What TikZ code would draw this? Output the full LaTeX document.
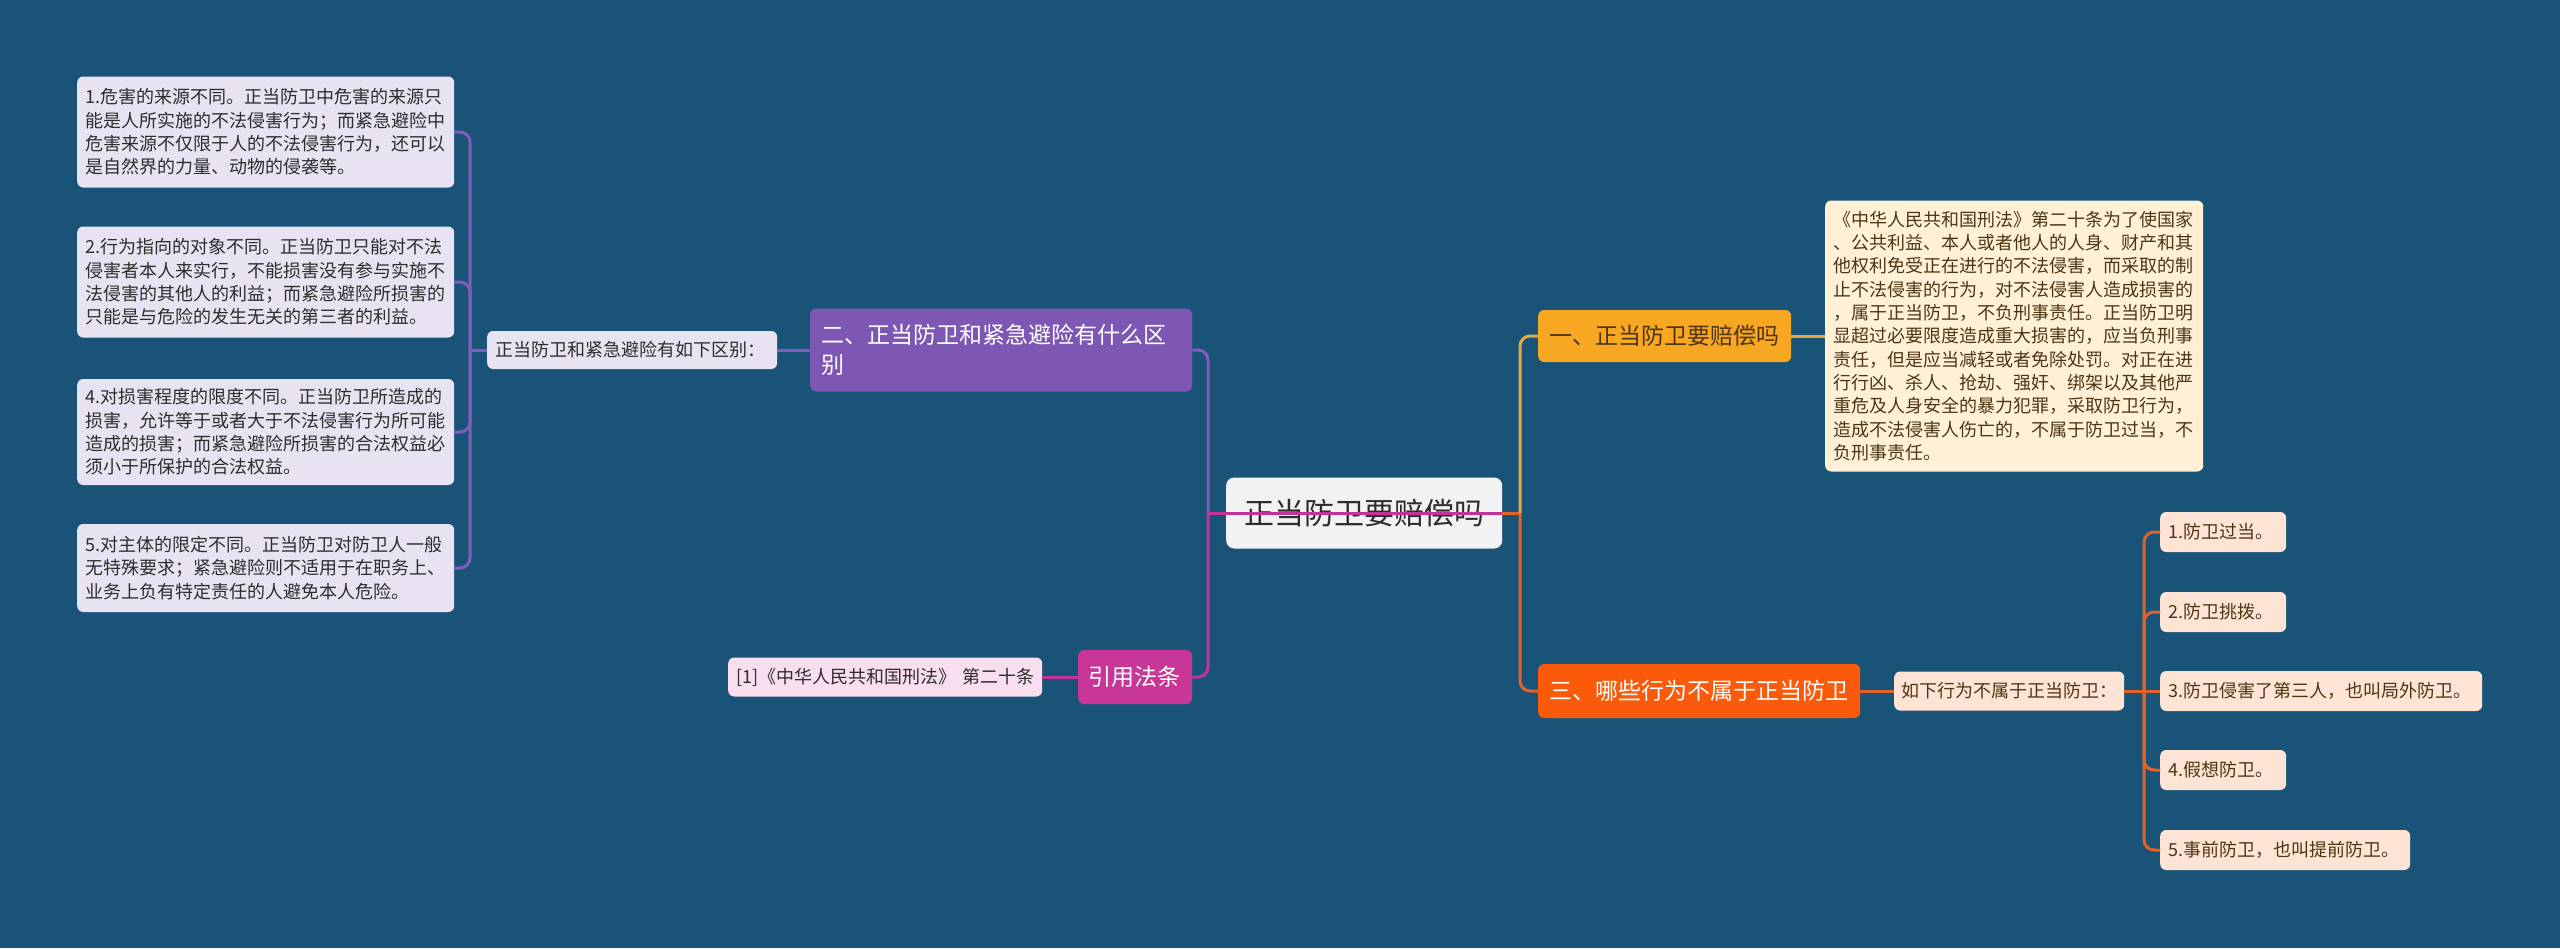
\documentclass[tikz,border=0pt]{standalone}
\usepackage{fontspec}
\setmainfont{Noto Sans CJK SC}

\definecolor{bgblue}{RGB}{26,83,120}
\definecolor{lavender}{RGB}{232,226,242}
\definecolor{purp}{RGB}{126,87,181}
\definecolor{purpline}{RGB}{130,92,188}
\definecolor{mag}{RGB}{200,54,152}
\definecolor{magline}{RGB}{196,52,150}
\definecolor{pinklight}{RGB}{248,222,238}
\definecolor{rootgray}{RGB}{242,242,242}
\definecolor{amber}{RGB}{247,167,34}
\definecolor{amberline}{RGB}{228,168,62}
\definecolor{cream}{RGB}{255,240,214}
\definecolor{flame}{RGB}{250,90,10}
\definecolor{flameline}{RGB}{226,98,40}
\definecolor{peach}{RGB}{255,227,212}
\definecolor{inkdark}{RGB}{45,45,45}
\definecolor{inkbrown}{RGB}{78,54,20}

\tikzset{
    card/.style={rounded corners=6pt, anchor=west, align=left, inner xsep=8pt,
        inner ysep=0pt, font=\fontsize{18}{23.3}\selectfont},
    detail/.style={card, fill=lavender, text=inkdark},
    citeref/.style={card, fill=pinklight, text=inkdark},
    lawbox/.style={card, fill=cream, text=inkbrown},
    item/.style={card, fill=peach, text=inkbrown, minimum height=40pt},
    topic/.style={card, inner xsep=11pt, font=\fontsize{23}{30}\selectfont},
    centre/.style={card, align=center, inner xsep=18pt, fill=rootgray, text=inkdark,
        rounded corners=8pt, font=\fontsize{30}{34}\selectfont},
    link/.style={line width=3pt, rounded corners=10pt}
}

\begin{document}
\begin{tikzpicture}[x=1pt, y=-1pt]
    \useasboundingbox (0,0) rectangle (2560,948);
    \fill[bgblue] (0,0) rectangle (2560,948);

    \node[centre, text width=240pt, minimum height=71pt] (root) at (1226,513)
        {正当防卫要赔偿吗};

    \node[topic, fill=purp, text=white, text width=360pt, minimum height=83pt] (sec-two) at (810,350)
        {二、正当防卫和紧急避险有什么区\\别};
    \node[detail, text width=274pt, minimum height=38pt] (diff-intro) at (487,350)
        {正当防卫和紧急避险有如下区别：};
    \node[detail, text width=361pt, minimum height=111pt] (diff-1) at (77,132)
        {1.危害的来源不同。正当防卫中危害的来源只\\能是人所实施的不法侵害行为；而紧急避险中\\危害来源不仅限于人的不法侵害行为，还可以\\是自然界的力量、动物的侵袭等。};
    \node[detail, text width=361pt, minimum height=111pt] (diff-2) at (77,282)
        {2.行为指向的对象不同。正当防卫只能对不法\\侵害者本人来实行，不能损害没有参与实施不\\法侵害的其他人的利益；而紧急避险所损害的\\只能是与危险的发生无关的第三者的利益。};
    \node[detail, text width=361pt, minimum height=106pt] (diff-4) at (77,432)
        {4.对损害程度的限度不同。正当防卫所造成的\\损害，允许等于或者大于不法侵害行为所可能\\造成的损害；而紧急避险所损害的合法权益必\\须小于所保护的合法权益。};
    \node[detail, text width=361pt, minimum height=88pt] (diff-5) at (77,568)
        {5.对主体的限定不同。正当防卫对防卫人一般\\无特殊要求；紧急避险则不适用于在职务上、\\业务上负有特定责任的人避免本人危险。};

    \node[topic, fill=mag, text=white, inner xsep=10pt, text width=94pt, minimum height=54pt] (cite) at (1078,677)
        {引用法条};
    \node[citeref, text width=298pt, minimum height=39pt] (ref-law) at (728,677)
        {[1]《中华人民共和国刑法》~第二十条};

    \node[topic, fill=amber, text=inkbrown, text width=231pt, minimum height=52pt] (sec-one) at (1538,336)
        {一、正当防卫要赔偿吗};
    \node[lawbox, text width=362pt, minimum height=271pt] (law-text) at (1825,336)
        {《中华人民共和国刑法》第二十条为了使国家\\、公共利益、本人或者他人的人身、财产和其\\他权利免受正在进行的不法侵害，而采取的制\\止不法侵害的行为，对不法侵害人造成损害的\\，属于正当防卫，不负刑事责任。正当防卫明\\显超过必要限度造成重大损害的，应当负刑事\\责任，但是应当减轻或者免除处罚。对正在进\\行行凶、杀人、抢劫、强奸、绑架以及其他严\\重危及人身安全的暴力犯罪，采取防卫行为，\\造成不法侵害人伤亡的，不属于防卫过当，不\\负刑事责任。};

    \node[topic, fill=flame, text=white, text width=300pt, minimum height=54pt] (sec-three) at (1538,691)
        {三、哪些行为不属于正当防卫};
    \node[item, inner xsep=7pt, text width=216pt, minimum height=39pt] (not-intro) at (1894,691)
        {如下行为不属于正当防卫：};
    \node[item, text width=110pt] (not-1) at (2160,532) {1.防卫过当。};
    \node[item, text width=110pt] (not-2) at (2160,612) {2.防卫挑拨。};
    \node[item, text width=306pt] (not-3) at (2160,691) {3.防卫侵害了第三人，也叫局外防卫。};
    \node[item, text width=110pt] (not-4) at (2160,770) {4.假想防卫。};
    \node[item, text width=234pt] (not-5) at (2160,850) {5.事前防卫，也叫提前防卫。};

    \coordinate (left-fork) at (1208,513);
    \coordinate (right-fork) at (1520,513);
    \coordinate (diff-fork) at (470,350);
    \coordinate (not-fork) at (2144,691);

    \draw[link, purpline] (left-fork) |- (sec-two.east);
    \draw[link, magline] (left-fork) |- (cite.east);
    \draw[link, magline] (root.east) -- (left-fork);
    \draw[link, flameline] (root.east) -- (right-fork);
    \draw[link, amberline] (right-fork) |- (sec-one.west);
    \draw[link, flameline] (right-fork) |- (sec-three.west);

    \draw[link, purpline] (sec-two.west) -- (diff-intro.east);
    \draw[link, purpline] (diff-intro.west) -- (diff-fork);
    \draw[link, purpline] (diff-fork) |- (diff-1.east);
    \draw[link, purpline] (diff-fork) |- (diff-2.east);
    \draw[link, purpline] (diff-fork) |- (diff-4.east);
    \draw[link, purpline] (diff-fork) |- (diff-5.east);
    \draw[link, magline] (cite.west) -- (ref-law.east);

    \draw[link, amberline] (sec-one.east) -- (law-text.west);
    \draw[link, flameline] (sec-three.east) -- (not-intro.west);
    \draw[link, flameline] (not-intro.east) -- (not-fork);
    \draw[link, flameline] (not-fork) |- (not-1.west);
    \draw[link, flameline] (not-fork) |- (not-2.west);
    \draw[link, flameline] (not-fork) -- (not-3.west);
    \draw[link, flameline] (not-fork) |- (not-4.west);
    \draw[link, flameline] (not-fork) |- (not-5.west);
\end{tikzpicture}
\end{document}
